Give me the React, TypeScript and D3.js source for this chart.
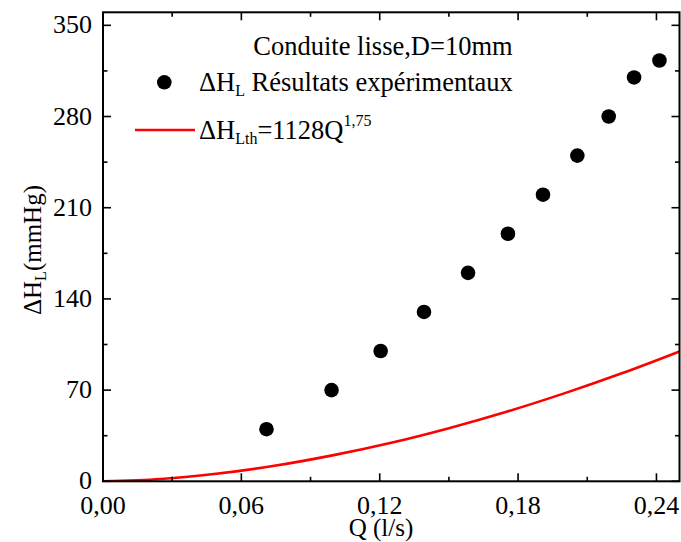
import * as d3 from "d3";

// values
const qExp = [0.0709, 0.0991, 0.1204, 0.1392, 0.1583, 0.1756, 0.1908, 0.2057, 0.2193, 0.2303, 0.2413];
const hExp = [40, 70, 100, 130, 160, 190, 220, 250, 280, 310, 323];
const qTh = [0, 0.025, 0.05, 0.075, 0.1, 0.125, 0.15, 0.175, 0.2, 0.225, 0.25];
const hTh = [0, 1.8, 6.0, 12.1, 20.1, 29.6, 40.8, 53.4, 67.5, 82.9, 99.7];
const xTicks = [0, 0.06, 0.12, 0.18, 0.24];
const xTickLabels = ["0,00", "0,06", "0,12", "0,18", "0,24"];
const xMinor = [0.03, 0.09, 0.15, 0.21];
const yTicks = [0, 70, 140, 210, 280, 350];
const yMinor = [35, 105, 175, 245, 315];

const W = 681;
const H = 542;
const font = "'Liberation Serif', 'Times New Roman', serif";

export default function App() {
  const x = d3.scaleLinear().domain([0, 0.25]).range([103, 679.5]);
  const y = d3.scaleLinear().domain([0, 360]).range([481.3, 12.3]);
  const [x0, x1] = x.range();
  const [y0, y1] = y.range();

  const line = d3
    .line<number>()
    .x((_, i) => x(qTh[i]))
    .y((d) => y(d))
    .curve(d3.curveMonotoneX);

  const major = 8;
  const minor = 4.5;

  return (
    <svg
      width={W}
      height={H}
      style={{ position: "absolute", left: 0, top: 0, background: "#fff" }}
      fontFamily={font}
    >
      <defs>
        <clipPath id="plot">
          <rect x={x0} y={y1} width={x1 - x0} height={y0 - y1} />
        </clipPath>
      </defs>

      {/* theoretical curve */}
      <path
        d={line(hTh) ?? ""}
        fill="none"
        stroke="#ff0000"
        strokeWidth={2.6}
        clipPath="url(#plot)"
      />

      {/* experimental points */}
      {qExp.map((q, i) => (
        <circle key={i} cx={x(q)} cy={y(hExp[i])} r={7.3} fill="#000" />
      ))}

      {/* ticks on all four sides, pointing inward */}
      <g stroke="#000" strokeWidth={1.6}>
        {xTicks.map((t) => (
          <g key={"xt" + t}>
            <line x1={x(t)} x2={x(t)} y1={y0} y2={y0 - major} />
            <line x1={x(t)} x2={x(t)} y1={y1} y2={y1 + major} />
          </g>
        ))}
        {xMinor.map((t) => (
          <g key={"xm" + t}>
            <line x1={x(t)} x2={x(t)} y1={y0} y2={y0 - minor} />
            <line x1={x(t)} x2={x(t)} y1={y1} y2={y1 + minor} />
          </g>
        ))}
        {yTicks.map((t) => (
          <g key={"yt" + t}>
            <line x1={x0} x2={x0 + major} y1={y(t)} y2={y(t)} />
            <line x1={x1} x2={x1 - major} y1={y(t)} y2={y(t)} />
          </g>
        ))}
        {yMinor.map((t) => (
          <g key={"ym" + t}>
            <line x1={x0} x2={x0 + minor} y1={y(t)} y2={y(t)} />
            <line x1={x1} x2={x1 - minor} y1={y(t)} y2={y(t)} />
          </g>
        ))}
      </g>

      {/* frame */}
      <rect
        x={x0}
        y={y1}
        width={x1 - x0}
        height={y0 - y1}
        fill="none"
        stroke="#000"
        strokeWidth={2}
      />

      {/* tick labels */}
      <g fontSize={26} fill="#000">
        {xTicks.map((t, i) => (
          <text key={"xl" + t} x={x(t)} y={514} textAnchor="middle">
            {xTickLabels[i]}
          </text>
        ))}
        {yTicks.map((t) => (
          <text key={"yl" + t} x={92} y={y(t) + 8} textAnchor="end">
            {t}
          </text>
        ))}
      </g>

      {/* axis titles */}
      <text x={381} y={536} fontSize={25} textAnchor="middle">
        Q (l/s)
      </text>
      <text
        transform="translate(41,250) rotate(-90)"
        fontSize={25}
        textAnchor="middle"
      >
        ΔH
        <tspan fontSize={16} dy={5}>
          L
        </tspan>
        <tspan dy={-5}>(mmHg)</tspan>
      </text>

      {/* legend */}
      <g fontSize={26.5} fill="#000">
        <text x={383} y={55} textAnchor="middle">
          Conduite lisse,D=10mm
        </text>
        <circle cx={164.3} cy={82.3} r={7.3} fill="#000" />
        <text x={199} y={91}>
          ΔH
          <tspan fontSize={16} dy={5}>
            L
          </tspan>
          <tspan dy={-5}> Résultats expérimentaux</tspan>
        </text>
        <line x1={135} x2={195} y1={130} y2={130} stroke="#ff0000" strokeWidth={2.6} />
        <text x={199} y={139}>
          ΔH
          <tspan fontSize={16} dy={5}>
            Lth
          </tspan>
          <tspan dy={-5}>=1128Q</tspan>
          <tspan fontSize={16} dy={-13}>
            1,75
          </tspan>
        </text>
      </g>
    </svg>
  );
}
